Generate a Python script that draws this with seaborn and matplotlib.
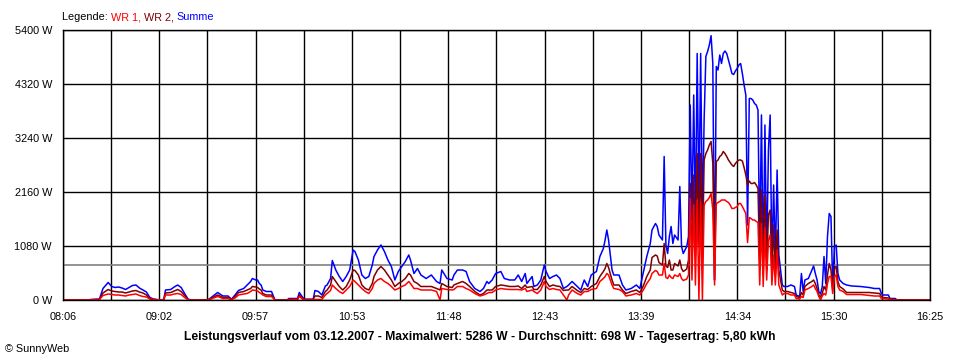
import matplotlib
matplotlib.use("Agg")
import numpy as np
import pandas as pd
import matplotlib.pyplot as plt
import seaborn as sns

# Messzeitpunkte (HH:MM) und Leistungswerte in W
zeiten = [
    # 08:06 - 09:20
    "08:06", "08:20", "08:22", "08:27", "08:29", "08:32", "08:34", "08:36", "08:38", "08:40",
    "08:42", "08:44", "08:46", "08:48", "08:50", "08:52", "08:54", "08:56", "08:58", "09:00",
    "09:02", "09:04", "09:05", "09:08", "09:10", "09:12", "09:14", "09:16", "09:18", "09:20",
    # 09:28 - 10:53
    "09:28", "09:30", "09:35", "09:38", "09:41", "09:43", "09:45", "09:47", "09:50", "09:52",
    "09:54", "09:55", "09:57", "09:58", "09:59", "10:00", "10:01", "10:03", "10:06", "10:08",
    "10:15", "10:16", "10:21", "10:22", "10:24", "10:25", "10:30", "10:31", "10:33", "10:35",
    "10:37", "10:38", "10:40", "10:41", "10:43", "10:45", "10:47", "10:49", "10:51", "10:53",
    # 10:54 - 12:15
    "10:54", "10:56", "10:58", "11:00", "11:02", "11:04", "11:05", "11:07", "11:09", "11:11",
    "11:13", "11:15", "11:17", "11:19", "11:21", "11:23", "11:25", "11:26", "11:28", "11:30",
    "11:32", "11:35", "11:38", "11:41", "11:43", "11:44", "11:47", "11:50", "11:51", "11:53",
    "11:56", "11:58", "12:00", "12:03", "12:06", "12:08", "12:10", "12:11", "12:13", "12:15",
    # 12:18 - 13:38
    "12:18", "12:20", "12:23", "12:26", "12:28", "12:30", "12:32", "12:33", "12:36", "12:37",
    "12:39", "12:41", "12:43", "12:44", "12:46", "12:48", "12:50", "12:52", "12:54", "12:56",
    "12:57", "12:59", "13:02", "13:04", "13:06", "13:08", "13:10", "13:13", "13:15", "13:17",
    "13:18", "13:19", "13:20", "13:22", "13:23", "13:26", "13:28", "13:30", "13:33", "13:36",
    "13:38",
    # 13:40 - 14:06
    "13:40", "13:42", "13:44", "13:45", "13:47", "13:48", "13:49", "13:51", "13:52", "13:53",
    "13:54", "13:55", "13:56", "13:57", "13:58", "14:00", "14:01", "14:02", "14:03", "14:05",
    "14:06",
    # 14:07 - 15:00 (minutenweise)
    "14:07", "14:08", "14:09", "14:10", "14:11", "14:12", "14:13", "14:14", "14:15", "14:16",
    "14:17", "14:18", "14:19", "14:20", "14:21", "14:22", "14:23", "14:24", "14:25", "14:26",
    "14:27", "14:28", "14:29", "14:30", "14:31", "14:32", "14:33", "14:34", "14:35", "14:36",
    "14:37", "14:38", "14:39", "14:40", "14:41", "14:42", "14:43", "14:44", "14:45", "14:46",
    "14:47", "14:48", "14:49", "14:50", "14:51", "14:52", "14:53", "14:54", "14:55", "14:56",
    "14:57", "14:58", "14:59", "15:00",
    # 15:01 - 16:25
    "15:01", "15:03", "15:05", "15:07", "15:08", "15:10", "15:11", "15:12", "15:13", "15:15",
    "15:17", "15:18", "15:19", "15:20", "15:21", "15:22", "15:23", "15:24", "15:25", "15:26",
    "15:27", "15:28", "15:29", "15:30", "15:31", "15:32", "15:33", "15:35", "15:37", "15:40",
    "15:45", "15:50", "15:53", "15:56", "15:57", "15:58", "16:01", "16:02", "16:05", "16:06",
    "16:25",
]

summe = [
    0, 0, 10, 20, 230, 350, 270, 250, 260, 240,
    210, 250, 290, 300, 240, 200, 160, 50, 20, 10,
    0, 10, 200, 210, 260, 300, 250, 130, 15, 0,

    0, 15, 150, 80, 80, 15, 100, 190, 230, 300,
    370, 430, 400, 400, 330, 300, 200, 170, 170, 0,
    0, 30, 30, 150, 50, 15, 15, 190, 170, 100,
    280, 300, 430, 790, 600, 470, 370, 470, 600, 1000,

    970, 800, 500, 430, 470, 700, 870, 1000, 1100, 970,
    800, 670, 400, 570, 670, 770, 900, 800, 530, 630,
    500, 430, 500, 370, 330, 600, 430, 400, 500, 600,
    600, 570, 370, 230, 170, 230, 370, 330, 400, 530,

    570, 430, 400, 400, 500, 370, 530, 330, 470, 270,
    300, 400, 700, 570, 430, 470, 500, 430, 230, 270,
    300, 370, 270, 200, 400, 270, 500, 570, 870, 1030,
    1200, 1400, 1200, 600, 500, 500, 300, 200, 230, 300,
    230,

    550, 870, 1130, 1400, 1530, 1470, 1300, 1200, 2870, 1100,
    930, 1270, 1470, 1130, 1300, 1200, 2270, 1070, 930, 1070,
    1270,

    3900, 1600, 4100, 1500, 4930, 1800, 4930, 1600, 3600, 4870,
    4970, 5100, 5286, 4730, 400, 4670, 4600, 4900, 4730, 4930,
    4980, 4930, 4800, 4670, 4530, 4510, 4580, 4630, 4700, 4730,
    4530, 4300, 4100, 1500, 4030, 4030, 4000, 3930, 3900, 3800,
    1000, 3700, 600, 3500, 800, 3000, 3700, 700, 2300, 800,
    2600, 900, 600, 300,

    270, 270, 300, 270, 100, 70, 530, 170, 400, 430,
    600, 680, 530, 400, 170, 120, 270, 870, 330, 1270,
    1730, 1670, 270, 1070, 1100, 530, 400, 330, 300, 280,
    270, 250, 230, 230, 130, 100, 100, 30, 30, 0,
    0,
]

wr2 = [
    0, 0, 5, 10, 140, 210, 180, 170, 160, 160,
    140, 160, 180, 190, 160, 140, 100, 30, 10, 5,
    0, 5, 140, 150, 180, 210, 170, 90, 10, 0,

    0, 10, 100, 50, 50, 10, 70, 150, 170, 200,
    230, 270, 260, 250, 220, 200, 130, 100, 100, 0,
    0, 15, 15, 100, 30, 10, 10, 80, 80, 50,
    170, 200, 300, 470, 370, 270, 200, 270, 400, 600,

    590, 500, 300, 230, 200, 330, 470, 600, 670, 600,
    500, 400, 270, 330, 370, 430, 530, 500, 370, 330,
    270, 270, 270, 230, 200, 330, 270, 250, 300, 330,
    370, 330, 270, 170, 100, 130, 200, 200, 200, 270,

    300, 290, 270, 270, 280, 230, 300, 250, 270, 210,
    210, 300, 470, 370, 270, 300, 280, 270, 190, 200,
    200, 270, 190, 150, 230, 210, 270, 330, 470, 570,
    630, 730, 650, 400, 300, 300, 200, 130, 170, 200,
    150,

    280, 470, 600, 850, 900, 880, 750, 700, 1130, 680,
    650, 800, 600, 600, 730, 680, 800, 630, 570, 620,
    800,

    2330, 700, 2500, 900, 2930, 1100, 2930, 800, 2800, 2930,
    3000, 3100, 3170, 2730, 400, 2770, 2800, 2870, 2900, 2970,
    2930, 2870, 2800, 2750, 2700, 2670, 2730, 2770, 2800, 2800,
    2780, 2650, 2500, 2300, 2380, 2330, 2330, 2350, 2300, 2230,
    700, 2200, 500, 2100, 600, 1700, 1800, 500, 1500, 500,
    1400, 600, 400, 200,

    170, 170, 150, 130, 70, 50, 150, 100, 270, 330,
    370, 400, 330, 230, 100, 60, 130, 270, 200, 500,
    730, 600, 200, 630, 670, 370, 270, 220, 150, 150,
    150, 150, 140, 130, 70, 50, 40, 20, 10, 0,
    0,
]

wr1 = [
    0, 0, 5, 10, 90, 120, 110, 100, 100, 90,
    80, 100, 110, 120, 90, 70, 60, 20, 10, 5,
    0, 5, 100, 100, 120, 130, 110, 50, 5, 0,

    0, 5, 70, 30, 30, 5, 40, 100, 120, 130,
    170, 200, 190, 180, 150, 130, 100, 70, 70, 0,
    0, 10, 10, 70, 15, 5, 5, 10, 10, 10,
    100, 130, 190, 300, 230, 170, 130, 200, 270, 400,

    370, 300, 230, 170, 130, 230, 330, 400, 430, 370,
    330, 270, 200, 230, 270, 300, 370, 330, 230, 230,
    200, 200, 200, 170, 0, 230, 210, 200, 210, 270,
    270, 230, 200, 130, 80, 100, 130, 150, 150, 200,

    230, 220, 210, 210, 210, 200, 230, 170, 200, 170,
    130, 200, 370, 270, 210, 230, 210, 200, 100, 0,
    100, 200, 130, 100, 170, 170, 210, 230, 370, 430,
    470, 530, 500, 300, 230, 210, 170, 80, 100, 130,
    100,

    200, 330, 430, 530, 590, 570, 500, 500, 730, 450,
    430, 500, 450, 430, 500, 470, 530, 430, 390, 420,
    500,

    2030, 400, 1900, 300, 2000, 0, 1950, 0, 1900, 1970,
    2000, 2050, 2130, 1800, 300, 1930, 1950, 1970, 2000, 2000,
    2000, 1970, 1950, 1900, 1830, 1830, 1850, 1870, 1930, 1930,
    1870, 1800, 1730, 1150, 1650, 1630, 1600, 1600, 1570, 1550,
    300, 1530, 270, 1450, 400, 1200, 1300, 300, 900, 300,
    1000, 300, 200, 100,

    130, 130, 100, 100, 30, 20, 70, 50, 200, 230,
    270, 300, 230, 170, 70, 0, 80, 130, 100, 330,
    470, 470, 130, 470, 500, 270, 200, 170, 110, 110,
    110, 90, 80, 80, 30, 30, 20, 10, 5, 0,
    0,
]

x_labels = ["08:06", "09:02", "09:57", "10:53", "11:48",
            "12:43", "13:39", "14:34", "15:30", "16:25"]
y_werte = [0, 1080, 2160, 3240, 4320, 5400]
durchschnitt = 698
titel = ("Leistungsverlauf vom 03.12.2007 - Maximalwert: 5286 W - "
         "Durchschnitt: 698 W - Tagesertrag: 5,80 kWh")


def in_minuten(s):
    h, m = s.split(":")
    return int(h) * 60 + int(m)


minuten = [in_minuten(z) for z in zeiten]
n = len(minuten)
df = pd.DataFrame({
    "Zeit": minuten * 3,
    "Leistung": summe + wr2 + wr1,
    "Serie": ["Summe"] * n + ["WR 2"] * n + ["WR 1"] * n,
})

farben = {"WR 1": "#ff0000", "WR 2": "#800000", "Summe": "#0000ff"}

sns.set_theme(style="white")
plt.rcParams["font.family"] = ["Liberation Sans", "DejaVu Sans"]
plt.rcParams["text.color"] = "black"

fig = plt.figure(figsize=(9.6, 3.6), dpi=100)
fig.patch.set_facecolor("white")
ax = fig.add_axes([63 / 960, 60 / 360, 867 / 960, 270 / 360])

ax.axhline(durchschnitt, color="#808080", linewidth=1.2, zorder=1.5)
sns.lineplot(data=df, x="Zeit", y="Leistung", hue="Serie",
             hue_order=["Summe", "WR 2", "WR 1"], palette=farben,
             estimator=None, legend=False, linewidth=1.1, ax=ax)

t0 = in_minuten(x_labels[0])
t1 = in_minuten(x_labels[-1])
ax.set_xlim(t0, t1)
ax.set_ylim(0, 5400)

ticks = np.linspace(t0, t1, 2 * len(x_labels) - 1)
ax.set_xticks(ticks)
beschriftung = []
for i in range(len(ticks)):
    beschriftung.append(x_labels[i // 2] if i % 2 == 0 else "")
ax.set_xticklabels(beschriftung)
ax.set_yticks(y_werte)
ax.set_yticklabels([f"{v} W" for v in y_werte])

ax.set_xlabel("")
ax.set_ylabel("")
ax.set_axisbelow(True)
ax.grid(True, color="black", linewidth=1.0)
for sp in ax.spines.values():
    sp.set_color("black")
    sp.set_linewidth(1.0)
    sp.set_visible(True)
ax.tick_params(axis="both", direction="out", length=5, width=1, color="black",
               labelcolor="black", labelsize=7.8, pad=3)
ax.tick_params(axis="x", pad=4)
ax.set_facecolor("white")

# Legende als farbiger Text oben links
fig.canvas.draw()
renderer = fig.canvas.get_renderer()
x = 62 / 960
for teil, farbe in [("Legende: ", "black"), ("WR 1, ", farben["WR 1"]),
                    ("WR 2, ", farben["WR 2"]), ("Summe", farben["Summe"])]:
    t = fig.text(x, 1 - 17 / 360, teil, color=farbe, fontsize=7.8,
                 ha="left", va="center")
    bb = t.get_window_extent(renderer=renderer)
    x += bb.width / fig.bbox.width

fig.text(480 / 960, 1 - 337 / 360, titel, fontsize=8.7, fontweight="bold",
         ha="center", va="center", color="black")
fig.text(5 / 960, 1 - 349 / 360, "© SunnyWeb", fontsize=7.8,
         ha="left", va="center", color="black")

fig.savefig("out.png", dpi=100, facecolor="white")
